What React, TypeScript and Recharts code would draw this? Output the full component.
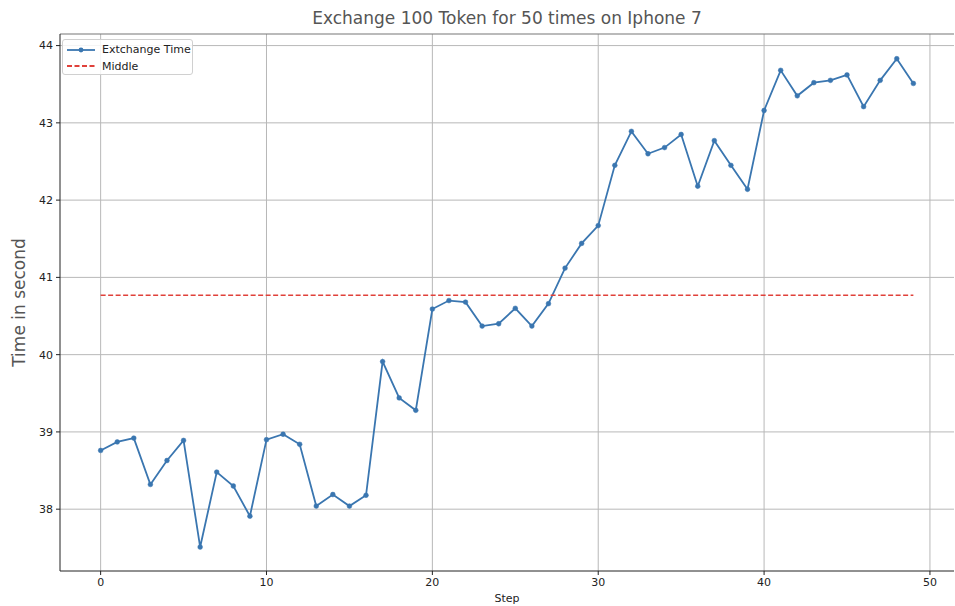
import React from 'react';
import { LineChart, Line, XAxis, YAxis, CartesianGrid, ReferenceLine } from 'recharts';

// seconds per run of 100 token exchanges, 50 runs
const steps = Array.from({ length: 50 }, (_, i) => i);
const times = [
  38.76, 38.87, 38.92, 38.32, 38.63, 38.89, 37.51, 38.48, 38.30, 37.91,
  38.90, 38.97, 38.84, 38.04, 38.19, 38.04, 38.18, 39.91, 39.44, 39.28,
  40.59, 40.70, 40.68, 40.37, 40.40, 40.60, 40.37, 40.66, 41.12, 41.44,
  41.67, 42.45, 42.89, 42.60, 42.68, 42.85, 42.18, 42.77, 42.45, 42.14,
  43.16, 43.68, 43.35, 43.52, 43.55, 43.62, 43.21, 43.55, 43.83, 43.51,
];
const middle = 40.77;
const xTicks = [0, 10, 20, 30, 40, 50];
const yTicks = [38, 39, 40, 41, 42, 43, 44];

const rows = steps.map((s, i) => ({ step: s, time: times[i], middle }));

const BLUE = '#3a76b0';
const RED = '#e0413a';
const FONT = '"DejaVu Sans", sans-serif';
const Y_MIN = 37.2;
const Y_MAX = 44.15;

function LegendBox() {
  return (
    <div
      style={{
        position: 'absolute',
        left: 62,
        top: 39,
        width: 131,
        height: 36,
        boxSizing: 'border-box',
        border: '1px solid #d0d0d0',
        borderRadius: 3,
        background: 'rgba(255,255,255,0.85)',
        padding: '1px 0 0 4px',
        fontFamily: FONT,
        fontSize: 11,
        color: '#222',
        whiteSpace: 'nowrap',
      }}
    >
      <div style={{ display: 'flex', alignItems: 'center', height: 17 }}>
        <svg width={28} height={10} style={{ marginRight: 7 }}>
          <line x1={0} y1={5} x2={28} y2={5} stroke={BLUE} strokeWidth={1.8} />
          <circle cx={14} cy={5} r={2.4} fill={BLUE} />
        </svg>
        Extchange Time
      </div>
      <div style={{ display: 'flex', alignItems: 'center', height: 16 }}>
        <svg width={28} height={10} style={{ marginRight: 7 }}>
          <line x1={0} y1={5} x2={28} y2={5} stroke={RED} strokeWidth={1.8} strokeDasharray="5 2.5" />
        </svg>
        Middle
      </div>
    </div>
  );
}

export default function App() {
  return (
    <div style={{ position: 'absolute', left: 0, top: 0, width: 955, height: 606, background: '#fff' }}>
      <div
        style={{
          position: 'absolute',
          top: 8,
          left: 60,
          width: 894,
          textAlign: 'center',
          fontFamily: FONT,
          fontSize: 17,
          color: '#555',
          lineHeight: '20px',
        }}
      >
        Exchange 100 Token for 50 times on Iphone 7
      </div>
      <LineChart width={955} height={606} data={rows} margin={{ top: 34, right: 1, left: 0, bottom: 0 }}>
        <CartesianGrid stroke="#b8b8b8" strokeWidth={1} horizontalValues={yTicks} verticalValues={xTicks} />
        <XAxis
          dataKey="step"
          type="number"
          domain={[-2.45, 51.45]}
          ticks={xTicks}
          allowDataOverflow
          height={35}
          stroke="#222"
          tickSize={4}
          tickMargin={3}
          tick={{ fontSize: 11, fill: '#222', fontFamily: FONT }}
          label={{ value: 'Step', position: 'insideBottom', offset: 4, fontSize: 11, fill: '#222', fontFamily: FONT }}
        />
        <YAxis
          type="number"
          domain={[Y_MIN, Y_MAX]}
          ticks={yTicks}
          allowDataOverflow
          width={60}
          stroke="#222"
          tickSize={4}
          tickMargin={3}
          tick={{ fontSize: 11, fill: '#222', fontFamily: FONT }}
          label={{
            value: 'Time in second',
            angle: -90,
            position: 'insideLeft',
            offset: 19,
            style: { textAnchor: 'middle', fontSize: 17, fill: '#555', fontFamily: FONT },
          }}
        />
        <ReferenceLine y={Y_MAX} stroke="#777" strokeWidth={1.2} ifOverflow="visible" />
        <Line
          name="Extchange Time"
          dataKey="time"
          stroke={BLUE}
          strokeWidth={1.8}
          dot={{ r: 2.4, fill: BLUE, stroke: BLUE, strokeWidth: 0.5 }}
          activeDot={false}
          isAnimationActive={false}
        />
        <Line
          name="Middle"
          dataKey="middle"
          stroke={RED}
          strokeWidth={1.5}
          strokeDasharray="5 2.5"
          dot={false}
          activeDot={false}
          isAnimationActive={false}
        />
      </LineChart>
      <LegendBox />
    </div>
  );
}
